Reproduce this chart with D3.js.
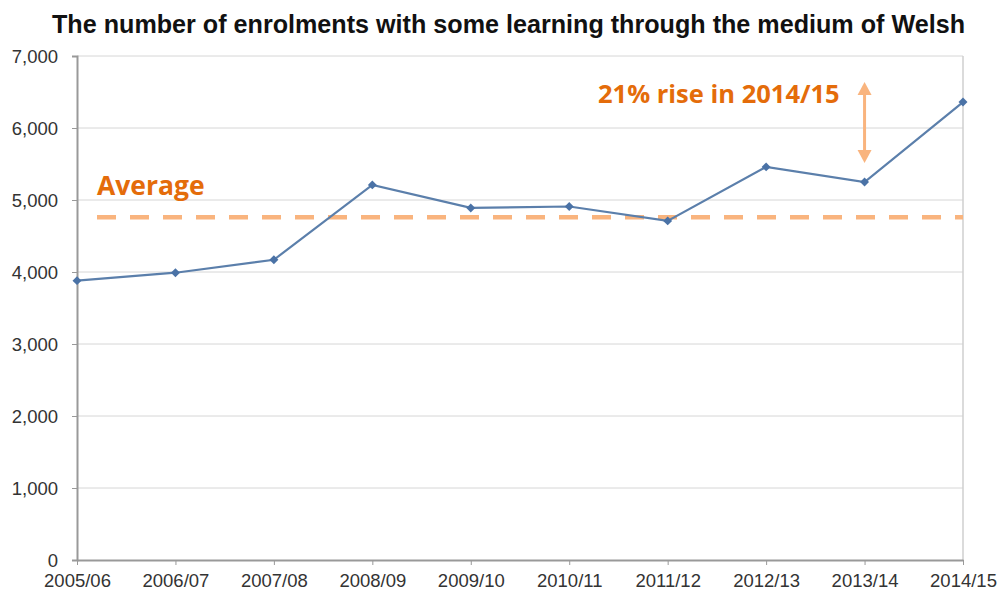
<!DOCTYPE html>
<html>
<head>
<meta charset="utf-8">
<script src="https://d3js.org/d3.v7.min.js"></script>
<style>
body{margin:0;background:#fff;}
</style>
</head>
<body>
<div id="chart"></div>
<script>
// data
var years=["2005/06","2006/07","2007/08","2008/09","2009/10","2010/11","2011/12","2012/13","2013/14","2014/15"];
var enrolments=[3880,3990,4170,5210,4890,4910,4710,5460,5250,6360];
var yTicks=[0,1000,2000,3000,4000,5000,6000,7000];
var avgValue=4760;
var riseFrom=5250, riseTo=6360;

var width=998, height=597;
var margin={top:56, right:35, bottom:37, left:77};

var svg=d3.select("#chart").append("svg")
	.attr("width",width)
	.attr("height",height);

var g=svg.append("g").attr("transform","translate("+margin.left+","+margin.top+")");
var gw=width-margin.left-margin.right;
var gh=height-margin.top-margin.bottom;

var x=d3.scalePoint().domain(years).range([0,gw]);
var y=d3.scaleLinear().domain([0,7000]).range([gh,0]);

// title
svg.append("text")
	.attr("x",52).attr("y",33)
	.attr("font-family","'Liberation Sans',Arial,sans-serif")
	.attr("font-weight","bold")
	.attr("font-size",26)
	.attr("textLength",913)
	.attr("lengthAdjust","spacingAndGlyphs")
	.attr("fill","#111")
	.text("The number of enrolments with some learning through the medium of Welsh");

// gridlines
g.selectAll(".grid").data(yTicks.slice(1)).enter().append("line")
	.attr("x1",0).attr("x2",gw)
	.attr("y1",function(d){return y(d);}).attr("y2",function(d){return y(d);})
	.attr("stroke","#d6d6d6").attr("stroke-width",1);

// right border
g.append("line").attr("x1",gw).attr("x2",gw).attr("y1",0).attr("y2",gh)
	.attr("stroke","#cfcfcf").attr("stroke-width",1.5);

// y axis
var yAxis=g.append("g")
	.call(d3.axisLeft(y).tickValues(yTicks).tickSize(5).tickPadding(14).tickFormat(d3.format(",")));
yAxis.select(".domain").attr("stroke","#999").attr("stroke-width",2);
yAxis.selectAll(".tick line").attr("stroke","#999");
yAxis.selectAll("text").attr("font-family","'Liberation Sans',Arial,sans-serif").attr("font-size",18.5).attr("fill","#333").attr("dy","0.35em");

// x axis
var xAxis=g.append("g").attr("transform","translate(0,"+gh+")")
	.call(d3.axisBottom(x).tickSize(5).tickPadding(9).tickSizeOuter(0));
xAxis.select(".domain").attr("stroke","#999").attr("stroke-width",2);
xAxis.selectAll(".tick line").attr("stroke","#999");
xAxis.selectAll("text").attr("font-family","'Liberation Sans',Arial,sans-serif").attr("font-size",18.5).attr("fill","#333");

// average dashed line
g.append("line")
	.attr("x1",20).attr("x2",gw)
	.attr("y1",y(avgValue)).attr("y2",y(avgValue))
	.attr("stroke","#f9b47e").attr("stroke-width",4.5)
	.attr("stroke-dasharray","19,14");

g.append("text")
	.attr("x",20).attr("y",y(avgValue)-22)
	.attr("font-family","'Open Sans',sans-serif").attr("font-weight","bold")
	.attr("font-size",26.5).attr("fill","#e46c0a")
	.text("Average");

// line
var line=d3.line().x(function(d,i){return x(years[i]);}).y(function(d){return y(d);});
g.append("path").datum(enrolments)
	.attr("d",line)
	.attr("fill","none")
	.attr("stroke","#5b7fab").attr("stroke-width",2.2);

g.selectAll(".pt").data(enrolments).enter().append("path")
	.attr("d",d3.symbol().type(d3.symbolSquare).size(40))
	.attr("transform",function(d,i){return "translate("+x(years[i])+","+y(d)+") rotate(45)";})
	.attr("fill","#4a72a6");

// rise annotation arrow
var ax=x("2013/14");
var ay1=y(riseTo)-20, ay2=y(riseFrom)-19;
g.append("line").attr("x1",ax).attr("x2",ax).attr("y1",ay1+8).attr("y2",ay2-8)
	.attr("stroke","#f9b47e").attr("stroke-width",3);
g.append("path").attr("d","M"+(ax-7)+","+(ay1+13)+"L"+ax+","+ay1+"L"+(ax+7)+","+(ay1+13)+"Z").attr("fill","#f9b47e");
g.append("path").attr("d","M"+(ax-7)+","+(ay2-13)+"L"+ax+","+ay2+"L"+(ax+7)+","+(ay2-13)+"Z").attr("fill","#f9b47e");

g.append("text")
	.attr("x",521).attr("y",47)
	.attr("font-family","'Open Sans',sans-serif").attr("font-weight","bold")
	.attr("font-size",25.5).attr("fill","#e46c0a")
	.text("21% rise in 2014/15");
</script>
</body>
</html>
